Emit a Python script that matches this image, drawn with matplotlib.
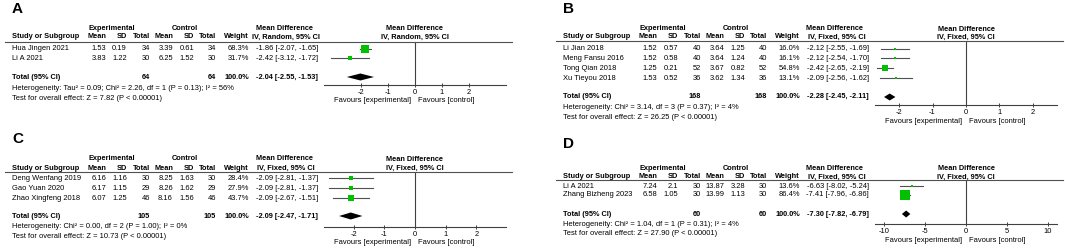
import matplotlib.pyplot as plt
from matplotlib.lines import Line2D

plt.rcParams['font.family'] = ['Liberation Sans', 'DejaVu Sans']

W, H = 1065, 249
FS = 5.4
FSB = 5.3

# ---------------- data ----------------
a_study = ['Hua Jingen 2021', 'Li A 2021']
a_exp_mean = [1.53, 3.83]
a_exp_sd = [0.19, 1.22]
a_exp_n = [34, 30]
a_ctl_mean = [3.39, 6.25]
a_ctl_sd = [0.61, 1.52]
a_ctl_n = [34, 30]
a_weight = [68.3, 31.7]
a_md = [-1.86, -2.42]
a_lo = [-2.07, -3.12]
a_hi = [-1.65, -1.72]
a_total = [64, 64, -2.04, -2.55, -1.53]
a_het = 'Heterogeneity: Tau² = 0.09; Chi² = 2.26, df = 1 (P = 0.13); I² = 56%'
a_test = 'Test for overall effect: Z = 7.82 (P < 0.00001)'
a_method = 'IV, Random, 95% CI'
a_ticks = [-2, -1, 0, 1, 2]

b_study = ['Li Jian 2018', 'Meng Fansu 2016', 'Tong Qian 2018', 'Xu Tieyou 2018']
b_exp_mean = [1.52, 1.52, 1.25, 1.53]
b_exp_sd = [0.57, 0.58, 0.21, 0.52]
b_exp_n = [40, 40, 52, 36]
b_ctl_mean = [3.64, 3.64, 3.67, 3.62]
b_ctl_sd = [1.25, 1.24, 0.82, 1.34]
b_ctl_n = [40, 40, 52, 36]
b_weight = [16.0, 16.1, 54.8, 13.1]
b_md = [-2.12, -2.12, -2.42, -2.09]
b_lo = [-2.55, -2.54, -2.65, -2.56]
b_hi = [-1.69, -1.70, -2.19, -1.62]
b_total = [168, 168, -2.28, -2.45, -2.11]
b_het = 'Heterogeneity: Chi² = 3.14, df = 3 (P = 0.37); I² = 4%'
b_test = 'Test for overall effect: Z = 26.25 (P < 0.00001)'
b_method = 'IV, Fixed, 95% CI'
b_ticks = [-2, -1, 0, 1, 2]

c_study = ['Deng Wenfang 2019', 'Gao Yuan 2020', 'Zhao Xingfeng 2018']
c_exp_mean = [6.16, 6.17, 6.07]
c_exp_sd = [1.16, 1.15, 1.25]
c_exp_n = [30, 29, 46]
c_ctl_mean = [8.25, 8.26, 8.16]
c_ctl_sd = [1.63, 1.62, 1.56]
c_ctl_n = [30, 29, 46]
c_weight = [28.4, 27.9, 43.7]
c_md = [-2.09, -2.09, -2.09]
c_lo = [-2.81, -2.81, -2.67]
c_hi = [-1.37, -1.37, -1.51]
c_total = [105, 105, -2.09, -2.47, -1.71]
c_het = 'Heterogeneity: Chi² = 0.00, df = 2 (P = 1.00); I² = 0%'
c_test = 'Test for overall effect: Z = 10.73 (P < 0.00001)'
c_method = 'IV, Fixed, 95% CI'
c_ticks = [-2, -1, 0, 1, 2]

d_study = ['Li A 2021', 'Zhang Bizheng 2023']
d_exp_mean = [7.24, 6.58]
d_exp_sd = [2.1, 1.05]
d_exp_n = [30, 30]
d_ctl_mean = [13.87, 13.99]
d_ctl_sd = [3.28, 1.13]
d_ctl_n = [30, 30]
d_weight = [13.6, 86.4]
d_md = [-6.63, -7.41]
d_lo = [-8.02, -7.96]
d_hi = [-5.24, -6.86]
d_total = [60, 60, -7.30, -7.82, -6.79]
d_het = 'Heterogeneity: Chi² = 1.04, df = 1 (P = 0.31); I² = 4%'
d_test = 'Test for overall effect: Z = 27.90 (P < 0.00001)'
d_method = 'IV, Fixed, 95% CI'
d_ticks = [-10, -5, 0, 5, 10]

# ---------------- layout (pixels) ----------------
COLS = [94, 115, 138, 161, 182, 204, 237, 306]   # right edges relative to study column
HEAD2 = ['Mean', 'SD', 'Total', 'Mean', 'SD', 'Total', 'Weight']

layout = {
    'A': dict(x0=12, lab=9, h1=29, h2=37, line=42, rows=[49, 58], tot=77,
              het=88, test=98, axis=85, fav=100, xlim=3.4),
    'B': dict(x0=563, lab=9, h1=29, h2=37, line=41, rows=[49, 58, 68, 78], tot=97,
              het=107, test=117, axis=105, fav=121, xlim=2.72),
    'C': dict(x0=12, lab=139, h1=159, h2=168, line=172, rows=[178, 188, 198], tot=216,
              het=226, test=236, axis=227, fav=242, xlim=2.96),
    'D': dict(x0=563, lab=144, h1=168, h2=177, line=180, rows=[186, 195], tot=214,
              het=224, test=233, axis=224, fav=240, xlim=11.1),
}

fig = plt.figure(figsize=(W / 100, H / 100), dpi=100)


def txt(x, y, s, ha='left', bold=False, size=None):
    fig.text(x / W, 1 - y / H, s, ha=ha, va='center',
             fontsize=size or (FSB if bold else FS),
             fontweight='bold' if bold else 'normal', color='black')


def panel(key, study, em, esd, en, cm, csd, cn, wt, md, lo, hi, total, het, test, method, ticks):
    L = layout[key]
    x0 = L['x0']
    txt(x0, L['lab'], key, bold=True, size=11)
    txt(x0 + 100, L['h1'], 'Experimental', ha='center', bold=True)
    txt(x0 + 173, L['h1'], 'Control', ha='center', bold=True)
    txt(x0 + 272, L['h1'], 'Mean Difference', ha='center', bold=True)
    txt(x0, L['h2'], 'Study or Subgroup', bold=True)
    for c, h in zip(COLS, HEAD2):
        txt(x0 + c, L['h2'], h, ha='right', bold=True)
    txt(x0 + 274, L['h2'], method, ha='center', bold=True)
    fig.add_artist(Line2D([(x0 - 7) / W, (x0 + 500) / W], [1 - L['line'] / H] * 2,
                          color='#505050', lw=0.8))

    for i, y in enumerate(L['rows']):
        txt(x0, y, study[i])
        vals = [str(em[i]), str(esd[i]), str(en[i]), str(cm[i]), str(csd[i]),
                str(cn[i]), f'{wt[i]:.1f}%', f'{md[i]:.2f} [{lo[i]:.2f}, {hi[i]:.2f}]']
        for c, v in zip(COLS, vals):
            txt(x0 + c, y, v, ha='right')

    y = L['tot']
    txt(x0, y, 'Total (95% CI)', bold=True)
    txt(x0 + COLS[2], y, str(total[0]), ha='right', bold=True)
    txt(x0 + COLS[5], y, str(total[1]), ha='right', bold=True)
    txt(x0 + COLS[6], y, '100.0%', ha='right', bold=True)
    txt(x0 + COLS[7], y, f'{total[2]:.2f} [{total[3]:.2f}, {total[4]:.2f}]', ha='right', bold=True)
    txt(x0, L['het'], het)
    txt(x0, L['test'], test)

    # forest plot axes: y data unit = image pixel row
    left, right = x0 + 312, x0 + 494
    ax = fig.add_axes([left / W, 1 - L['axis'] / H, (right - left) / W, (L['axis'] - L['line']) / H])
    ax.set_xlim(-L['xlim'], L['xlim'])
    ax.set_ylim(L['axis'], L['line'])
    ax.patch.set_alpha(0)
    for s in ['top', 'left', 'right']:
        ax.spines[s].set_visible(False)
    ax.spines['bottom'].set_color('#404040')
    ax.spines['bottom'].set_linewidth(0.8)
    ax.set_yticks([])
    ax.set_xticks(ticks)
    ax.set_xticklabels([str(t) for t in ticks])
    ax.tick_params(axis='x', direction='inout', length=3.5, width=0.7, color='#404040',
                   labelsize=FS, pad=0.8)
    ax.axvline(0, color='#404040', lw=0.8)

    for i, y in enumerate(L['rows']):
        ax.plot([lo[i], hi[i]], [y, y], color='#505050', lw=0.8)
        side = 0.39 * wt[i] ** 0.71 * 0.72
        ax.plot(md[i], y, marker='s', ms=side, color='#00C000', mec='#00C000', mew=0)
    ty = L['tot']
    ax.fill([total[3], total[2], total[4], total[2]], [ty, ty - 3.5, ty, ty + 3.5],
            color='black', lw=0, clip_on=False)

    ax.text(0, L['h1'], 'Mean Difference', ha='center', va='center', fontsize=FSB, fontweight='bold')
    ax.text(0, L['h2'], method, ha='center', va='center', fontsize=FSB, fontweight='bold')
    off = L['xlim'] * 2 / (right - left)
    ax.text(-4 * off, L['fav'], 'Favours [experimental]', ha='right', va='center', fontsize=FS)
    ax.text(3 * off, L['fav'], 'Favours [control]', ha='left', va='center', fontsize=FS)


panel('A', a_study, a_exp_mean, a_exp_sd, a_exp_n, a_ctl_mean, a_ctl_sd, a_ctl_n,
      a_weight, a_md, a_lo, a_hi, a_total, a_het, a_test, a_method, a_ticks)
panel('B', b_study, b_exp_mean, b_exp_sd, b_exp_n, b_ctl_mean, b_ctl_sd, b_ctl_n,
      b_weight, b_md, b_lo, b_hi, b_total, b_het, b_test, b_method, b_ticks)
panel('C', c_study, c_exp_mean, c_exp_sd, c_exp_n, c_ctl_mean, c_ctl_sd, c_ctl_n,
      c_weight, c_md, c_lo, c_hi, c_total, c_het, c_test, c_method, c_ticks)
panel('D', d_study, d_exp_mean, d_exp_sd, d_exp_n, d_ctl_mean, d_ctl_sd, d_ctl_n,
      d_weight, d_md, d_lo, d_hi, d_total, d_het, d_test, d_method, d_ticks)

fig.savefig('out.png', dpi=100)
